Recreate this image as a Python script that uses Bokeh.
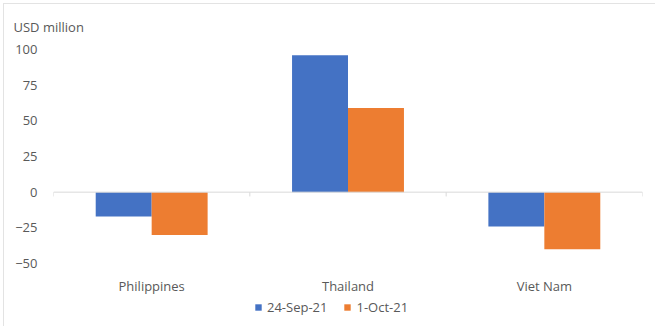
from bokeh.plotting import figure
from bokeh.models import (FactorRange, Range1d, ColumnDataSource, FixedTicker, Span,
                          Legend, LegendItem)
from bokeh.core.properties import value
from bokeh.transform import dodge
from bokeh.embed import file_html
from bokeh.resources import INLINE

categories = ["Philippines", "Thailand", "Viet Nam"]
series_names = ["24-Sep-21", "1-Oct-21"]
sep24 = [-17, 96, -24]
oct1 = [-30, 59, -40]
y_ticks = [-50, -25, 0, 25, 50, 75, 100]

BLUE = "#4472C4"
ORANGE = "#ED7D31"
GRAY_TXT = "#595959"
GRAY_LINE = "#D9D9D9"
FONT = "Open Sans"

# layout (pixels)
W, H = 652, 323
TOP, BOTTOM_AXIS = 45, 259        # pixel rows of y=100 and y=-50
Y_MIN, Y_MAX = -50, 100
px_per_unit = (BOTTOM_AXIS - TOP) / (Y_MAX - Y_MIN)
y_low = Y_MAX - (H - TOP) / px_per_unit   # frame extends to the bottom of the canvas

source = ColumnDataSource(dict(cat=categories, sep=sep24, oct=oct1))

p = figure(x_range=FactorRange(*categories, range_padding=0), y_range=Range1d(y_low, Y_MAX),
           width=W, height=H, output_backend="svg", toolbar_location=None,
           min_border_left=49, min_border_right=14, min_border_top=TOP, min_border_bottom=0,
           title="USD million")
p.margin = (3, 0, 0, 3)
p.styles = {"border-top": "1px solid #E3E3E3", "border-left": "1px solid #E3E3E3"}

p.title.align = "left"
p.title.vertical_align = "top"
p.title.offset = -40
p.title.standoff = 23
p.title.text_font = FONT
p.title.text_font_size = "13px"
p.title.text_font_style = "normal"
p.title.text_color = GRAY_TXT

p.outline_line_color = None
p.xgrid.grid_line_color = None
p.ygrid.grid_line_color = None
p.background_fill_color = "white"
p.border_fill_color = "white"
p.xaxis.visible = False

bw = 0.285
r1 = p.vbar(x=dodge("cat", -bw / 2, range=p.x_range), top="sep", width=bw, source=source,
            fill_color=BLUE, line_color=None)
r2 = p.vbar(x=dodge("cat", bw / 2, range=p.x_range), top="oct", width=bw, source=source,
            fill_color=ORANGE, line_color=None)

# zero line with category boundary ticks
p.add_layout(Span(location=0, dimension="width", line_color=GRAY_LINE, line_width=1))
bounds = list(range(len(categories) + 1))
p.segment(x0=bounds, y0=[0] * len(bounds), x1=bounds, y1=[-3] * len(bounds),
          line_color=GRAY_LINE, line_width=1)

# category labels below the value axis minimum
p.text(x=categories, y=[Y_MIN - 15.5] * len(categories), text=categories,
       text_font=value(FONT), text_font_size="13px", text_color=GRAY_TXT,
       text_align="center", text_baseline="middle")

# y axis
p.yaxis.ticker = FixedTicker(ticks=y_ticks)
p.yaxis.axis_line_color = None
p.yaxis.major_tick_line_color = None
p.yaxis.minor_tick_line_color = None
p.yaxis.major_tick_out = 0
p.yaxis.major_label_standoff = 16
p.yaxis.major_label_text_font = FONT
p.yaxis.major_label_text_font_size = "13px"
p.yaxis.major_label_text_color = GRAY_TXT

legend = Legend(items=[LegendItem(label=series_names[0], renderers=[r1]),
                       LegendItem(label=series_names[1], renderers=[r2])],
                location=(201, 10), orientation="horizontal",
                glyph_width=8, glyph_height=8, label_standoff=5, spacing=16,
                label_height=20, padding=0, margin=0, border_line_color=None,
                background_fill_alpha=0,
                label_text_font=FONT, label_text_font_size="13px", label_text_color=GRAY_TXT)
p.add_layout(legend, "center")

open("out.html", "w").write(file_html(p, INLINE))
